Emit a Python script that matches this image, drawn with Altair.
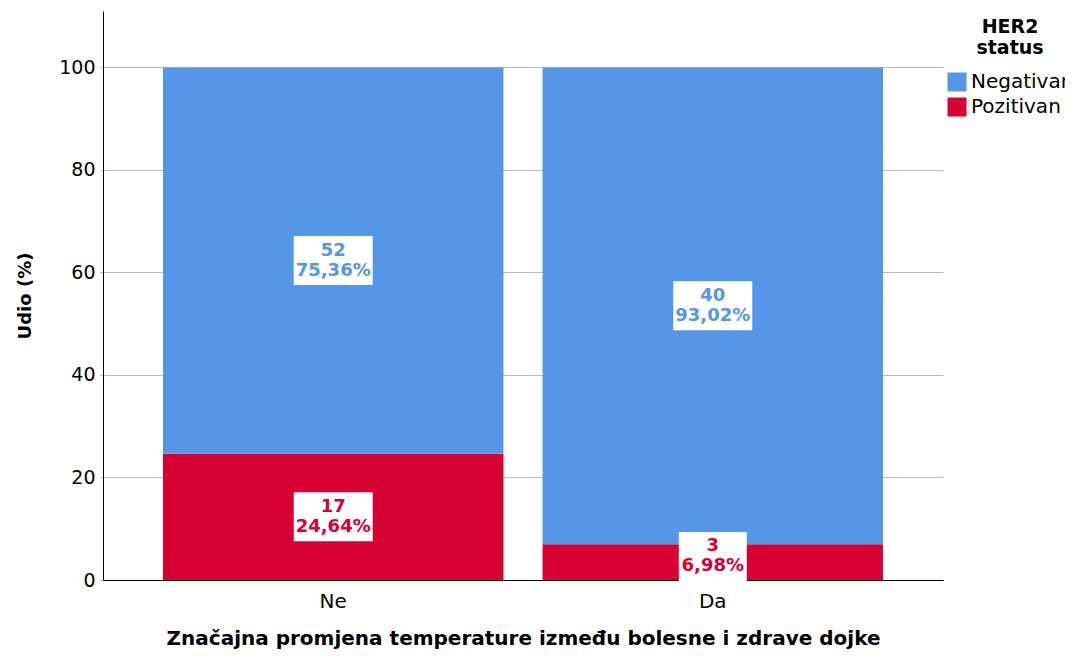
import altair as alt
import pandas as pd

categories = ["Ne", "Da"]
her2_levels = ["Negativan", "Pozitivan"]
neg_counts = [52, 40]
pos_counts = [17, 3]
neg_pct = [75.36, 93.02]
pos_pct = [24.64, 6.98]
neg_pct_labels = ["75,36%", "93,02%"]
pos_pct_labels = ["24,64%", "6,98%"]
colors = ["#5596E6", "#D60032"]

rows = []
for i, c in enumerate(categories):
    rows.append({"cat": c, "her2": "Pozitivan", "ord": 0, "count": pos_counts[i],
                 "lo": 0.0, "hi": pos_pct[i], "pctlabel": pos_pct_labels[i]})
    rows.append({"cat": c, "her2": "Negativan", "ord": 1, "count": neg_counts[i],
                 "lo": pos_pct[i], "hi": pos_pct[i] + neg_pct[i], "pctlabel": neg_pct_labels[i]})
df = pd.DataFrame(rows)

FONT = "DejaVu Sans"

x_enc = alt.X("cat:N", sort=categories,
              scale=alt.Scale(paddingInner=0.103, paddingOuter=0.158),
              axis=alt.Axis(title="Značajna promjena temperature između bolesne i zdrave dojke",
                            labelAngle=0, ticks=False, grid=False, domainColor="black",
                            labelFontSize=20, labelPadding=11, labelColor="black",
                            titleFontSize=20, titleFontWeight="bold", titlePadding=17,
                            titleColor="black"))
y_scale = alt.Scale(domain=[0, 111], nice=False)
y_axis = alt.Axis(title="Udio (%)", values=[0, 20, 40, 60, 80, 100], grid=True,
                  gridColor="#b9b9b9", gridWidth=1, domainColor="black",
                  tickColor="#b9b9b9", tickSize=3, labelPadding=5, labelFontSize=19,
                  labelColor="black", titleFontSize=18, titleFontWeight="bold",
                  titlePadding=24, titleColor="black")

color_scale = alt.Scale(domain=her2_levels, range=colors)

bars = alt.Chart(df).mark_bar().encode(
    x=x_enc,
    y=alt.Y("lo:Q", scale=y_scale, axis=y_axis),
    y2="hi:Q",
    color=alt.Color("her2:N", scale=color_scale,
                    legend=alt.Legend(title=["HER2", "status"])),
)

base = alt.Chart(df).transform_calculate(
    mid="max((datum.lo + datum.hi) / 2, 4.6)",
    txt="datum.count + '\\n' + datum.pctlabel",
    bw="(11 * length(datum.pctlabel) + 13) / 100",
).transform_calculate(
    boxpath="'M' + (-datum.bw) + ',-0.49H' + datum.bw + 'V0.49H' + (-datum.bw) + 'Z'"
)

boxes = base.mark_point(filled=True, opacity=1, strokeWidth=0, color="white", size=10000).encode(
    x=alt.X("cat:N", sort=categories),
    y=alt.Y("mid:Q", scale=y_scale),
    shape=alt.Shape("boxpath:N", scale=None),
)

labels = base.mark_text(lineBreak="\n", fontSize=18, fontWeight="bold", lineHeight=20,
                        baseline="middle", align="center", dy=-10, font=FONT).encode(
    x=alt.X("cat:N", sort=categories),
    y=alt.Y("mid:Q", scale=y_scale),
    text="txt:N",
    color=alt.Color("her2:N", scale=color_scale, legend=None),
)

chart = alt.layer(bars, boxes, labels).properties(
    width=840, height=569,
    autosize=alt.AutoSizeParams(type="none"),
    padding={"left": 95, "top": 3, "right": 122, "bottom": 72},
).configure(font=FONT).configure_view(strokeWidth=0, stroke="transparent").configure_legend(
    orient="none", legendX=844, legendY=7, padding=0,
    titleFontSize=19, titleFontWeight="bold", titleColor="black",
    titleAlign="center", titleAnchor="middle", titleLineHeight=21, titlePadding=14,
    symbolType="square", symbolSize=360, symbolStrokeWidth=0, symbolOpacity=1,
    labelFontSize=20, labelColor="black", labelOffset=4, rowPadding=5,
    labelLimit=300,
)

chart.save("out.html", embed_options={"renderer": "svg", "actions": False})
